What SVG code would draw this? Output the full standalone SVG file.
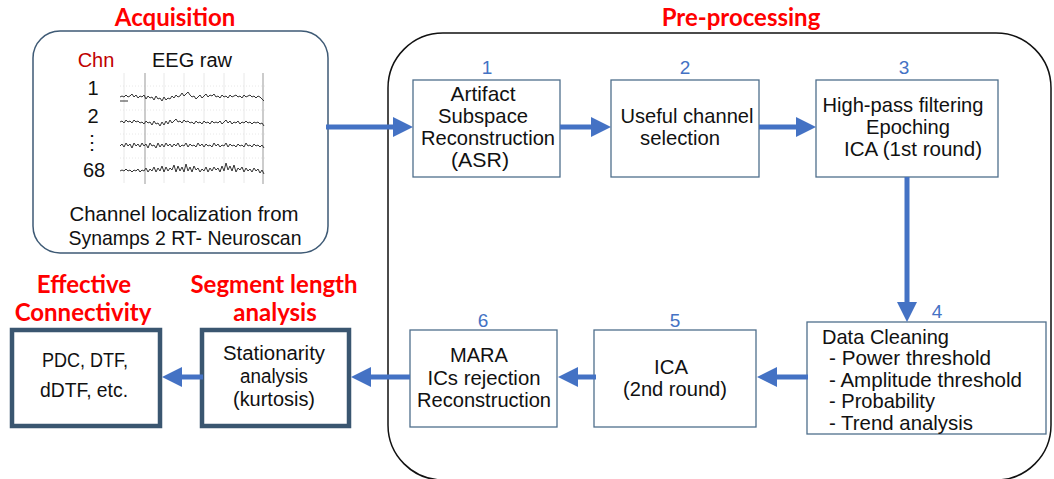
<svg xmlns="http://www.w3.org/2000/svg" width="1054" height="479" viewBox="0 0 1054 479">
<defs>
<style>
.t{font-family:"Liberation Sans",Arial,sans-serif;fill:#111;text-anchor:middle}
.s{font-size:21px}
.m{font-size:20px}
.l{text-anchor:start}
.title{font-family:Lato,"Liberation Sans",sans-serif;font-weight:bold;fill:#ff0000;text-anchor:middle;font-size:24px}
.num{font-family:"Liberation Sans",Arial,sans-serif;font-size:19px;fill:#4472c4;text-anchor:middle}
.box{fill:#fff;stroke:#4f6f8c;stroke-width:1.3}
.tbox{fill:#fff;stroke:#3a5670;stroke-width:4.5}
.conn{stroke:#4472c4;stroke-width:5;fill:none}
.trace{fill:none;stroke:#333;stroke-width:1}
.grid{stroke:#e2e2e2;stroke-width:0.8}
.gridd{stroke:#aaa;stroke-width:1.2}
</style>
<marker id="ah" markerWidth="4" markerHeight="4" refX="2" refY="2" orient="auto" markerUnits="strokeWidth" viewBox="0 0 4 4">
<path d="M0,0 L4,2 L0,4 z" fill="#4472c4"/>
</marker>
</defs>
<rect width="1054" height="479" fill="#fff"/>

<g id="titles">
<text class="title" x="175" y="26">Acquisition</text>
<text class="title" x="741" y="26">Pre-processing</text>
<text class="title" x="84" y="293">Effective</text>
<text class="title" x="83" y="321">Connectivity</text>
<text class="title" x="274" y="293">Segment length</text>
<text class="title" x="275" y="321">analysis</text>
</g>

<g id="preprocessing-frame">
<rect x="388" y="33" width="663" height="447" rx="55" ry="55" fill="none" stroke="#111" stroke-width="1.5"/>
</g>

<g id="acquisition">
<rect x="33" y="31" width="295" height="222" rx="27" ry="27" fill="#fff" stroke="#3e5a75" stroke-width="1.5"/>
<text class="t m" x="96" y="67" style="fill:#c00000">Chn</text>
<text class="t m" x="192" y="67">EEG raw</text>
<text class="t m" x="93" y="95">1</text>
<text class="t m" x="93" y="123">2</text>
<text class="t m" x="92" y="149">⋮</text>
<text class="t m" x="94" y="177">68</text>
<g id="eeg">
<line class="grid" x1="124" y1="73" x2="124" y2="183"/>
<line class="grid" x1="164" y1="73" x2="164" y2="183"/>
<line class="grid" x1="184" y1="73" x2="184" y2="183"/>
<line class="grid" x1="204" y1="73" x2="204" y2="183"/>
<line class="grid" x1="224" y1="73" x2="224" y2="183"/>
<line class="grid" x1="244" y1="73" x2="244" y2="183"/>
<line class="grid" x1="120" y1="86" x2="265" y2="86" stroke-dasharray="1,2"/>
<line class="grid" x1="120" y1="110" x2="265" y2="110" stroke-dasharray="1,2"/>
<line class="grid" x1="120" y1="134" x2="265" y2="134" stroke-dasharray="1,2"/>
<line class="grid" x1="120" y1="158" x2="265" y2="158" stroke-dasharray="1,2"/>
<line class="gridd" x1="145" y1="73" x2="145" y2="184"/>
<line class="gridd" x1="263" y1="73" x2="263" y2="184"/>
<polyline class="trace" points="120,97 122,96 124,97 126,95 128,97 130,96 132,94 134,97 136,95 138,98 140,96 142,97 144,95 146,99 148,96 150,98 152,97 154,100 156,96 158,99 160,98 162,101 164,97 166,100 168,98 170,99 172,96 174,98 176,95 178,97 180,96 182,93 184,96 186,94 188,92 190,95 192,97 194,96 196,99 198,97 200,95 202,98 204,96 206,94 208,97 210,95 212,96 214,94 216,97 218,96 220,98 222,95 224,97 226,96 228,98 230,95 232,97 234,96 236,95 238,97 240,96 242,98 244,95 246,97 248,96 250,95 252,97 254,96 256,98 258,96 260,97 262,99 264,101"/>
<line x1="120" y1="101" x2="128" y2="101" stroke="#333" stroke-width="1"/>
<polyline class="trace" points="120,122 122,121 124,123 126,120 128,122 130,121 132,123 134,120 136,122 138,121 140,123 142,122 144,124 146,121 148,123 150,122 152,125 154,121 156,124 158,123 160,126 162,122 164,125 166,121 168,124 170,120 172,123 174,121 176,119 178,122 180,121 182,123 184,120 186,122 188,121 190,123 192,122 194,124 196,121 198,123 200,122 202,124 204,121 206,123 208,122 210,124 212,121 214,123 216,122 218,123 220,121 222,124 224,122 226,120 228,123 230,121 232,124 234,122 236,123 238,121 240,124 242,122 244,123 246,121 248,123 250,122 252,124 254,122 256,123 258,122 260,124 262,123 264,126"/>
<polyline class="trace" points="120,146 122,144 124,147 126,143 128,146 130,144 132,148 134,143 136,146 138,144 140,147 142,143 144,146 146,144 148,148 150,143 152,146 154,145 156,148 158,143 160,147 162,144 164,147 166,143 168,146 170,144 172,147 174,144 176,146 178,143 180,147 182,145 184,146 186,143 188,147 190,144 192,146 194,145 196,147 198,143 200,146 202,144 204,147 206,144 208,146 210,145 212,147 214,143 216,146 218,144 220,147 222,145 224,146 226,143 228,147 230,144 232,146 234,145 236,147 238,144 240,146 242,145 244,147 246,143 248,146 250,145 252,147 254,144 256,146 258,145 260,147 262,145 264,148"/>
<polyline class="trace" points="120,171 122,170 124,171 126,169 128,171 130,170 132,172 134,170 136,171 138,169 140,172 142,170 144,171 146,168 148,172 150,169 152,171 154,167 156,172 158,168 160,171 162,166 164,172 166,167 168,171 170,168 172,170 174,165 176,172 178,166 180,171 182,167 184,172 186,164 188,171 190,167 192,172 194,166 196,170 198,168 200,172 202,169 204,171 206,167 208,172 210,168 212,171 214,167 216,170 218,168 220,172 222,166 224,171 226,163 228,170 230,166 232,171 234,165 236,172 238,168 240,170 242,167 244,172 246,168 248,171 250,169 252,172 254,168 256,171 258,169 260,173 262,170 264,174"/>
</g>
<text class="t s" x="184" y="221" textLength="229" lengthAdjust="spacingAndGlyphs">Channel  localization from</text>
<text class="t s" x="185" y="245" textLength="233" lengthAdjust="spacingAndGlyphs">Synamps 2 RT- Neuroscan</text>
</g>

<g id="step1">
<text class="num" x="487" y="74">1</text>
<rect class="box" x="413" y="80" width="147" height="97"/>
<text class="t s" x="483" y="101" textLength="65" lengthAdjust="spacingAndGlyphs">Artifact</text>
<text class="t s" x="483" y="123" textLength="90" lengthAdjust="spacingAndGlyphs">Subspace</text>
<text class="t s" x="488" y="145" textLength="134" lengthAdjust="spacingAndGlyphs">Reconstruction</text>
<text class="t s" x="480" y="167" textLength="58" lengthAdjust="spacingAndGlyphs">(ASR)</text>
</g>
<g id="step2">
<text class="num" x="685" y="74">2</text>
<rect class="box" x="611" y="80" width="148" height="97"/>
<text class="t s" x="687" y="123" textLength="133" lengthAdjust="spacingAndGlyphs">Useful channel</text>
<text class="t s" x="680" y="145" textLength="80" lengthAdjust="spacingAndGlyphs">selection</text>
</g>
<g id="step3">
<text class="num" x="904" y="74">3</text>
<rect class="box" x="816" y="80" width="182" height="97"/>
<text class="t s" x="903" y="112" textLength="161" lengthAdjust="spacingAndGlyphs">High-pass filtering</text>
<text class="t s" x="908" y="134" textLength="84" lengthAdjust="spacingAndGlyphs">Epoching</text>
<text class="t s" x="913" y="156" textLength="138" lengthAdjust="spacingAndGlyphs">ICA (1st round)</text>
</g>
<g id="step4">
<text class="num" x="937" y="318">4</text>
<rect class="box" x="807" y="322" width="239" height="112"/>
<text class="t s l" x="822" y="344" textLength="127" lengthAdjust="spacingAndGlyphs">Data Cleaning</text>
<text class="t s l" x="829" y="365" textLength="162" lengthAdjust="spacingAndGlyphs">- Power  threshold</text>
<text class="t s l" x="829" y="387" textLength="193" lengthAdjust="spacingAndGlyphs">- Amplitude threshold</text>
<text class="t s l" x="829" y="408" textLength="106" lengthAdjust="spacingAndGlyphs">- Probability</text>
<text class="t s l" x="829" y="430" textLength="144" lengthAdjust="spacingAndGlyphs">- Trend analysis</text>
</g>
<g id="step5">
<text class="num" x="675" y="327">5</text>
<rect class="box" x="594" y="330" width="162" height="97"/>
<text class="t s" x="671" y="374" textLength="34" lengthAdjust="spacingAndGlyphs">ICA</text>
<text class="t s" x="675" y="396" textLength="104" lengthAdjust="spacingAndGlyphs">(2nd round)</text>
</g>
<g id="step6">
<text class="num" x="483" y="327">6</text>
<rect class="box" x="410" y="330" width="147" height="97"/>
<text class="t s" x="479" y="362" textLength="58" lengthAdjust="spacingAndGlyphs">MARA</text>
<text class="t s" x="484" y="385" textLength="113" lengthAdjust="spacingAndGlyphs">ICs rejection</text>
<text class="t s" x="484" y="407" textLength="134" lengthAdjust="spacingAndGlyphs">Reconstruction</text>
</g>
<g id="stationarity">
<rect class="tbox" x="202" y="330" width="147" height="96"/>
<text class="t m" x="274" y="360" textLength="102" lengthAdjust="spacingAndGlyphs">Stationarity</text>
<text class="t m" x="274" y="383" textLength="68" lengthAdjust="spacingAndGlyphs">analysis</text>
<text class="t m" x="274" y="406" textLength="82" lengthAdjust="spacingAndGlyphs">(kurtosis)</text>
</g>
<g id="connectivity">
<rect class="tbox" x="12" y="330" width="148" height="96"/>
<text class="t m" x="85" y="367" textLength="86" lengthAdjust="spacingAndGlyphs">PDC, DTF,</text>
<text class="t m" x="84" y="397" textLength="88" lengthAdjust="spacingAndGlyphs">dDTF, etc.</text>
</g>

<g id="connectors">
<line class="conn" x1="326" y1="127" x2="403" y2="127" marker-end="url(#ah)"/>
<line class="conn" x1="560" y1="127" x2="601" y2="127" marker-end="url(#ah)"/>
<line class="conn" x1="759" y1="127" x2="806" y2="127" marker-end="url(#ah)"/>
<line class="conn" x1="907" y1="177" x2="907" y2="312" marker-end="url(#ah)"/>
<line class="conn" x1="808" y1="377" x2="767" y2="377" marker-end="url(#ah)"/>
<line class="conn" x1="596" y1="377" x2="568" y2="377" marker-end="url(#ah)"/>
<line class="conn" x1="410" y1="377" x2="361" y2="377" marker-end="url(#ah)"/>
<line class="conn" x1="203" y1="377" x2="172" y2="377" marker-end="url(#ah)"/>
</g>
</svg>
